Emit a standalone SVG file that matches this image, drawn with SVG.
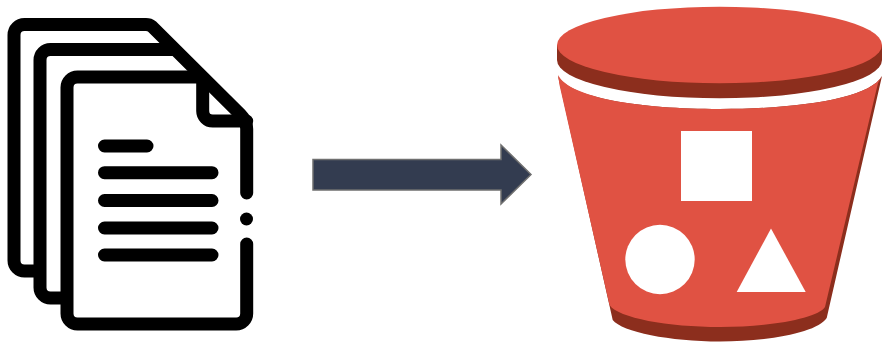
<svg xmlns="http://www.w3.org/2000/svg" width="884" height="342" viewBox="0 0 884 342">
<style>
.doc{fill:none;stroke:#000;stroke-width:13;stroke-linecap:round;stroke-linejoin:round}
.red{fill:#e05243}
.dark{fill:#8c2e1d}
.wht{fill:#fff}
</style>
<rect width="884" height="342" fill="#fff"/>
<g id="documents">
<path class="doc" d="M34 271H24.500A10.500 10.500 0 0 1 14 260.500V35A10.500 10.500 0 0 1 24.500 24.500H146Q149.500 24.500 152 26.500L240.500 114.500Q246.700 120.700 246.700 129V193"/>
<path class="doc" d="M61 298H50.500A10.500 10.500 0 0 1 40 287.500V60A10.500 10.500 0 0 1 50.500 49.500H173"/>
<path class="doc" d="M197 77H77.500A10.500 10.500 0 0 0 67 87.500V313.500A10.500 10.500 0 0 0 77.500 324H236.200A10.500 10.500 0 0 0 246.700 313.500V244"/>
<path class="doc" d="M202.700 80V111A10 10 0 0 0 212.700 121H246.700"/>
<circle cx="246.500" cy="219" r="6.500"/>
<path class="doc" d="M104.500 146H147M104.500 172.700H212M104.500 200.500H212M104.500 228H212M104.500 255H212"/>
</g>
<g id="connectors">
<path id="arrow" d="M313 159.500H501V145L531 174.500L501 204V190H313Z" fill="#333c50" stroke="#6f6f6f" stroke-width="1.500"/>
</g>
<g id="bucket">
<path class="dark" d="M558 76L612.700 320C622 332 670 341.500 720 341.500C770 341.500 818 332 826.700 318L882 76C870 98 800 109 720 109C640 109 570 98 558 76Z"/>
<path class="red" d="M558 75L559.500 85L609.500 305C618 318 668 327 720 327C772 327 818 318 825 307L878 83L882 76C870 98 800 109 720 109C640 109 570 98 558 75Z"/>
<path class="dark" d="M557 45V60A162.500 38.300 0 0 0 882 60V45Z"/>
<ellipse class="red" cx="719.500" cy="45" rx="162.500" ry="38.300"/>
<rect class="wht" x="681" y="131" width="71" height="70"/>
<circle class="wht" cx="660" cy="259.500" r="34.700"/>
<path class="wht" d="M771 228.500L805.700 292H736.700Z"/>
</g>
</svg>
